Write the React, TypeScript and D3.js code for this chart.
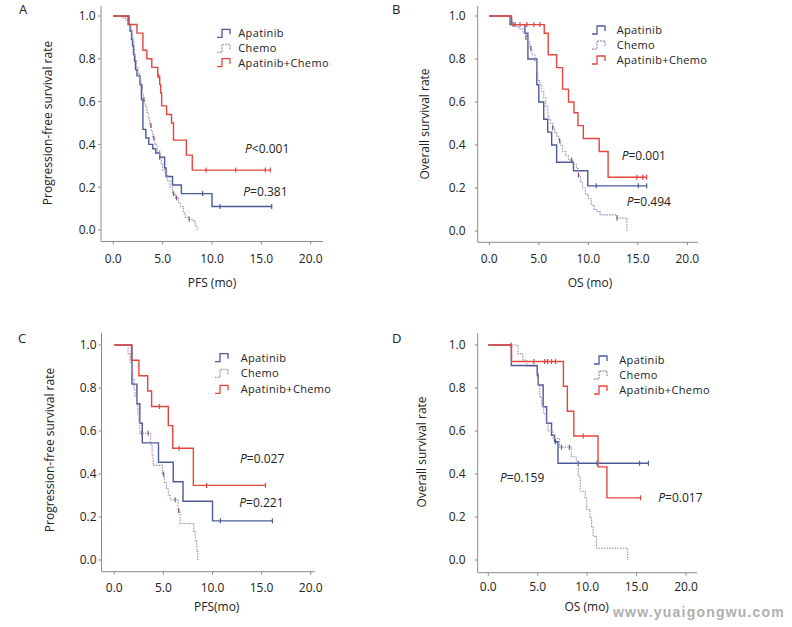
import React from 'react';
import * as d3 from 'd3';

// ---------- tick labels ----------
const xTickValues = [0, 5, 10, 15, 20];
const xTickLabels = ['0.0', '5.0', '10.0', '15.0', '20.0'];
const yTickValues = [0, 0.2, 0.4, 0.6, 0.8, 1.0];
const yTickLabels = ['0.0', '0.2', '0.4', '0.6', '0.8', '1.0'];
const legendLabels = ['Apatinib', 'Chemo', 'Apatinib+Chemo'];

// ---------- Panel A: PFS ----------
const aRedT = [0, 1.6, 2.4, 3.0, 3.4, 3.9, 4.5, 4.7, 4.8, 4.9, 5.4, 5.9, 6.1, 7.4, 8.0];
const aRedS = [1, 0.96, 0.92, 0.84, 0.8, 0.76, 0.72, 0.68, 0.64, 0.58, 0.54, 0.5, 0.42, 0.35, 0.28];
const aRedC = [4.55, 9.4, 12.4, 15.4, 15.9];
const aBlueT = [0, 1.5, 1.7, 1.85, 1.95, 2.05, 2.15, 2.25, 2.4, 2.7, 2.85, 3.0, 3.3, 3.6, 4.0, 4.3, 4.7, 5.2, 5.35, 6.0, 6.9, 10.0];
const aBlueS = [1, 0.96, 0.93, 0.89, 0.86, 0.82, 0.79, 0.75, 0.72, 0.68, 0.61, 0.47, 0.43, 0.4, 0.38, 0.36, 0.34, 0.29, 0.25, 0.21, 0.17, 0.11];
const aBlueC = [9.05, 10.8, 16.05];
const aChemoT = [0, 1.0, 1.3, 1.6, 1.8, 1.9, 2.0, 2.1, 2.15, 2.25, 2.35, 2.5, 2.65, 2.8, 2.95, 3.05, 3.2, 3.4, 3.55, 3.7, 3.85, 4.0, 4.2, 4.45, 4.7, 4.85, 5.0, 5.25, 5.5, 5.75, 6.0, 6.3, 6.6, 6.8, 7.1, 7.3, 7.6, 8.1, 8.3, 8.5];
const aChemoS = [1, 0.99, 0.98, 0.96, 0.94, 0.91, 0.88, 0.85, 0.82, 0.79, 0.76, 0.73, 0.7, 0.67, 0.64, 0.61, 0.58, 0.55, 0.52, 0.49, 0.46, 0.43, 0.4, 0.37, 0.34, 0.31, 0.28, 0.26, 0.23, 0.2, 0.17, 0.15, 0.13, 0.11, 0.08, 0.06, 0.05, 0.04, 0.02, 0.0];
const aChemoC = [2.9, 3.1, 3.8, 4.1, 4.7, 6.1, 6.4, 7.7];

// ---------- Panel B: OS ----------
const bRedT = [0, 2.25, 5.55, 5.95, 6.8, 7.4, 8.0, 8.55, 8.95, 9.5, 11.1, 12.0];
const bRedS = [1, 0.96, 0.92, 0.82, 0.76, 0.66, 0.6, 0.55, 0.49, 0.43, 0.37, 0.25];
const bRedC = [3.1, 3.8, 4.5, 5.1, 14.9, 15.5, 15.9];
const bBlueT = [0, 2.1, 3.6, 3.9, 4.8, 5.0, 5.5, 5.9, 6.3, 6.8, 8.5, 9.95];
const bBlueS = [1, 0.96, 0.92, 0.8, 0.68, 0.6, 0.52, 0.46, 0.4, 0.32, 0.28, 0.21];
const bBlueC = [2.6, 10.8, 15.05, 15.9];
const bChemoT = [0, 2.1, 2.3, 2.6, 3.0, 3.4, 3.7, 3.9, 4.1, 4.3, 4.6, 4.8, 4.9, 5.1, 5.3, 5.5, 5.7, 5.9, 6.0, 6.2, 6.4, 6.6, 6.8, 7.0, 7.2, 7.4, 7.7, 8.0, 8.4, 8.8, 9.0, 9.2, 9.4, 9.7, 10.0, 10.3, 10.6, 10.9, 11.2, 12.9, 13.9];
const bChemoS = [1, 0.98, 0.96, 0.95, 0.94, 0.92, 0.9, 0.88, 0.85, 0.82, 0.79, 0.74, 0.7, 0.68, 0.65, 0.62, 0.58, 0.54, 0.52, 0.5, 0.48, 0.46, 0.44, 0.42, 0.4, 0.37, 0.35, 0.33, 0.31, 0.29, 0.26, 0.23, 0.2, 0.17, 0.15, 0.12, 0.1, 0.09, 0.075, 0.06, 0.0];
const bChemoC = [2.4, 3.7, 4.2, 6.4, 7.1, 8.3, 9.0, 12.9];

// ---------- Panel C: PFS subgroup ----------
const cRedT = [0, 1.75, 2.5, 3.4, 3.8, 5.5, 5.95, 8.05];
const cRedS = [1, 0.929, 0.857, 0.786, 0.714, 0.625, 0.52, 0.347];
const cRedC = [4.6, 6.6, 9.4, 15.4];
const cBlueT = [0, 1.8, 2.3, 2.6, 2.85, 4.5, 6.0, 7.0, 10.0];
const cBlueS = [1, 0.818, 0.727, 0.636, 0.545, 0.455, 0.364, 0.273, 0.182];
const cBlueC = [10.8, 16.1];
const cChemoT = [0, 1.4, 1.6, 1.75, 1.9, 2.0, 2.1, 2.3, 2.4, 2.5, 2.6, 3.7, 3.85, 3.95, 4.9, 5.1, 5.3, 5.5, 5.7, 6.5, 6.7, 8.1, 8.25, 8.4, 8.5];
const cChemoS = [1, 0.96, 0.92, 0.88, 0.84, 0.8, 0.76, 0.72, 0.68, 0.64, 0.59, 0.54, 0.49, 0.44, 0.4, 0.36, 0.33, 0.3, 0.28, 0.23, 0.17, 0.13, 0.09, 0.04, 0.0];
const cChemoC = [2.8, 3.45, 5.0, 6.2, 6.55];

// ---------- Panel D: OS subgroup ----------
const dRedT = [0, 2.35, 7.6, 8.0, 8.65, 11.1, 12.0];
const dRedS = [1, 0.923, 0.808, 0.692, 0.577, 0.433, 0.289];
const dRedC = [4.6, 5.7, 6.0, 6.4, 6.8, 9.6, 15.4];
const dBlueT = [0, 2.33, 4.95, 5.05, 5.55, 5.9, 6.4, 6.7, 7.05];
const dBlueS = [1, 0.905, 0.86, 0.814, 0.713, 0.636, 0.58, 0.55, 0.45];
const dBlueC = [5.0, 6.8, 9.1, 11.0, 15.3, 16.2];
const dChemoT = [0, 3.0, 3.5, 3.9, 4.9, 5.05, 5.2, 5.4, 5.6, 5.85, 6.05, 6.55, 7.2, 8.4, 8.9, 9.1, 9.3, 9.8, 9.95, 10.3, 10.45, 10.6, 10.95, 14.1];
const dChemoS = [1, 0.96, 0.93, 0.9, 0.87, 0.81, 0.76, 0.72, 0.68, 0.64, 0.6, 0.565, 0.525, 0.48, 0.455, 0.39, 0.32, 0.29, 0.235, 0.195, 0.155, 0.11, 0.055, 0.0];
const dChemoC = [2.3, 7.4, 8.2];

// ---------- styles ----------
const FONT = "'Open Sans', 'Noto Sans', sans-serif";
const RED = '#e4453d';
const BLUE = '#4c5a9a';
const CHEMO = '#a091b2';
const CHEMO_MARK = '#8a557f';
const AXIS = '#8c8c8c';
const TEXT = '#222';

type Curve = { t: number[]; s: number[]; c: number[] };

const panels = [
  {
    letter: 'A', lx: 19, ly: 14,
    x0: 113.3, x20: 310.7, ys0: 230, ys1: 16,
    axX: 101, axY: 241.5, axTop: 6, axRight: 323,
    yLabX: 98.5, xLabY: 263,
    yTitle: 'Progression-free survival rate', yTitleX: 52, yTitleY: 123,
    xTitle: 'PFS (mo)', xTitleX: 212, xTitleY: 287,
    legSymX: 217, legTextX: 238.3, legY: [33.3, 48.3, 62.7],
    p: [{ op: '<0.001', x: 245, y: 153 }, { op: '=0.381', x: 243.3, y: 196 }],
    red: { t: aRedT, s: aRedS, c: aRedC }, blue: { t: aBlueT, s: aBlueS, c: aBlueC }, chemo: { t: aChemoT, s: aChemoS, c: aChemoC },
  },
  {
    letter: 'B', lx: 392, ly: 14,
    x0: 489.3, x20: 687.3, ys0: 231, ys1: 16,
    axX: 477.7, axY: 242.3, axTop: 6, axRight: 698,
    yLabX: 468.5, xLabY: 263,
    yTitle: 'Overall survival rate', yTitleX: 429, yTitleY: 124,
    xTitle: 'OS (mo)', xTitleX: 590, xTitleY: 287,
    legSymX: 592, legTextX: 616.7, legY: [30, 45, 60],
    p: [{ op: '=0.001', x: 621.7, y: 160 }, { op: '=0.494', x: 626.7, y: 206 }],
    red: { t: bRedT, s: bRedS, c: bRedC }, blue: { t: bBlueT, s: bBlueS, c: bBlueC }, chemo: { t: bChemoT, s: bChemoS, c: bChemoC },
  },
  {
    letter: 'C', lx: 18, ly: 343,
    x0: 114.3, x20: 310.7, ys0: 560, ys1: 345,
    axX: 101.5, axY: 571.7, axTop: 333, axRight: 315,
    yLabX: 99.5, xLabY: 592,
    yTitle: 'Progression-free survival rate', yTitleX: 54, yTitleY: 450,
    xTitle: 'PFS(mo)', xTitleX: 216.7, xTitleY: 611,
    legSymX: 215, legTextX: 240.7, legY: [357.7, 373.3, 389.3],
    p: [{ op: '=0.027', x: 240, y: 463 }, { op: '=0.221', x: 239.3, y: 506.7 }],
    red: { t: cRedT, s: cRedS, c: cRedC }, blue: { t: cBlueT, s: cBlueS, c: cBlueC }, chemo: { t: cChemoT, s: cChemoS, c: cChemoC },
  },
  {
    letter: 'D', lx: 392, ly: 343,
    x0: 488.3, x20: 686, ys0: 560, ys1: 345,
    axX: 477.7, axY: 572.7, axTop: 333, axRight: 697,
    yLabX: 468.5, xLabY: 591,
    yTitle: 'Overall survival rate', yTitleX: 425.5, yTitleY: 452,
    xTitle: 'OS (mo)', xTitleX: 586.7, xTitleY: 611,
    legSymX: 594, legTextX: 619.3, legY: [360, 375, 390],
    p: [{ op: '=0.159', x: 500, y: 481.7 }, { op: '=0.017', x: 658.3, y: 501.7 }],
    red: { t: dRedT, s: dRedS, c: dRedC }, blue: { t: dBlueT, s: dBlueS, c: dBlueC }, chemo: { t: dChemoT, s: dChemoS, c: dChemoC },
  },
];

function stepPath(cv: Curve, x: d3.ScaleLinear<number, number>, y: d3.ScaleLinear<number, number>) {
  const last = cv.t.length - 1;
  const tEnd = Math.max(cv.t[last], ...cv.c);
  const pts: [number, number][] = cv.t.map((t, i) => [t, cv.s[i]] as [number, number]);
  if (tEnd > cv.t[last]) pts.push([tEnd, cv.s[last]]);
  return d3.line<[number, number]>().x(d => x(d[0])).y(d => y(d[1])).curve(d3.curveStepAfter)(pts) || '';
}

function survAt(cv: Curve, t: number) {
  const i = Math.max(0, d3.bisectRight(cv.t, t) - 1);
  return cv.s[i];
}

function Panel({ p }: { p: typeof panels[number] }) {
  const x = d3.scaleLinear().domain([0, 20]).range([p.x0, p.x20]);
  const y = d3.scaleLinear().domain([0, 1]).range([p.ys0, p.ys1]);
  const groups = [
    { cv: p.blue as Curve, color: BLUE, mark: BLUE, dash: undefined as string | undefined, w: 1.4 },
    { cv: p.chemo as Curve, color: CHEMO, mark: CHEMO_MARK, dash: '1.6,1.1', w: 1.1 },
    { cv: p.red as Curve, color: RED, mark: RED, dash: undefined as string | undefined, w: 1.4 },
  ];
  return (
    <g>
      <text x={p.lx} y={p.ly} fontSize={13} fill={TEXT} fontFamily={FONT}>{p.letter}</text>
      {/* axes */}
      <line x1={p.axX} x2={p.axX} y1={p.axTop} y2={p.axY} stroke={AXIS} strokeWidth={1} />
      <line x1={p.axX} x2={p.axRight} y1={p.axY} y2={p.axY} stroke={AXIS} strokeWidth={1} />
      {yTickValues.map((v, i) => (
        <g key={'y' + i}>
          <line x1={p.axX - 3} x2={p.axX} y1={y(v)} y2={y(v)} stroke={AXIS} />
          <text x={p.yLabX - 3} y={y(v) + 4.3} textAnchor="end" fontSize={12} fill={TEXT} fontFamily={FONT}>{yTickLabels[i]}</text>
        </g>
      ))}
      {xTickValues.map((v, i) => (
        <g key={'x' + i}>
          <line x1={x(v)} x2={x(v)} y1={p.axY} y2={p.axY + 3} stroke={AXIS} />
          <text x={x(v)} y={p.xLabY} textAnchor="middle" fontSize={12} fill={TEXT} fontFamily={FONT}>{xTickLabels[i]}</text>
        </g>
      ))}
      <text transform={`translate(${p.yTitleX},${p.yTitleY}) rotate(-90)`} textAnchor="middle" fontSize={12} fill={TEXT} fontFamily={FONT}>{p.yTitle}</text>
      <text x={p.xTitleX} y={p.xTitleY} textAnchor="middle" fontSize={12} fill={TEXT} fontFamily={FONT}>{p.xTitle}</text>
      {/* curves */}
      {groups.map((g, gi) => (
        <g key={'c' + gi}>
          <path d={stepPath(g.cv, x, y)} fill="none" stroke={g.color} strokeWidth={g.w} strokeDasharray={g.dash} />
          {g.cv.c.map((t, ci) => {
            const yy = y(survAt(g.cv, t));
            return <line key={ci} x1={x(t)} x2={x(t)} y1={yy - 2.5} y2={yy + 2.5} stroke={g.mark} strokeWidth={1.2} />;
          })}
        </g>
      ))}
      {/* legend */}
      {legendLabels.map((lab, i) => {
        const cy = p.legY[i];
        const sx = p.legSymX;
        const g = groups[i];
        return (
          <g key={'l' + i}>
            <path d={`M${sx},${cy + 4}H${sx + 5}V${cy - 4}H${sx + 13}V${cy + 1}`} fill="none" stroke={g.color} strokeWidth={1.3} strokeDasharray={g.dash} />
            <text x={p.legTextX} y={cy + 4} fontSize={11} letterSpacing={0.35} fill={TEXT} fontFamily={FONT}>{lab}</text>
          </g>
        );
      })}
      {p.p.map((pv, i) => (
        <text key={'p' + i} x={pv.x} y={pv.y} fontSize={12} fill={TEXT} fontFamily={FONT}>
          <tspan fontStyle="italic">P</tspan>{pv.op}
        </text>
      ))}
    </g>
  );
}

export default function App() {
  return (
    <svg width={792} height={627} style={{ position: 'absolute', left: 0, top: 0, background: '#fff' }}>
      <rect x={0} y={0} width={792} height={627} fill="#fff" />
      {panels.map((p, i) => <Panel key={i} p={p} />)}
      <text x={613} y={617} fontSize={14} fontWeight="bold" letterSpacing={1.2} fill="#b0b0b0" fontFamily="'Liberation Sans', Arial, sans-serif">www.yuaigongwu.com</text>
    </svg>
  );
}
